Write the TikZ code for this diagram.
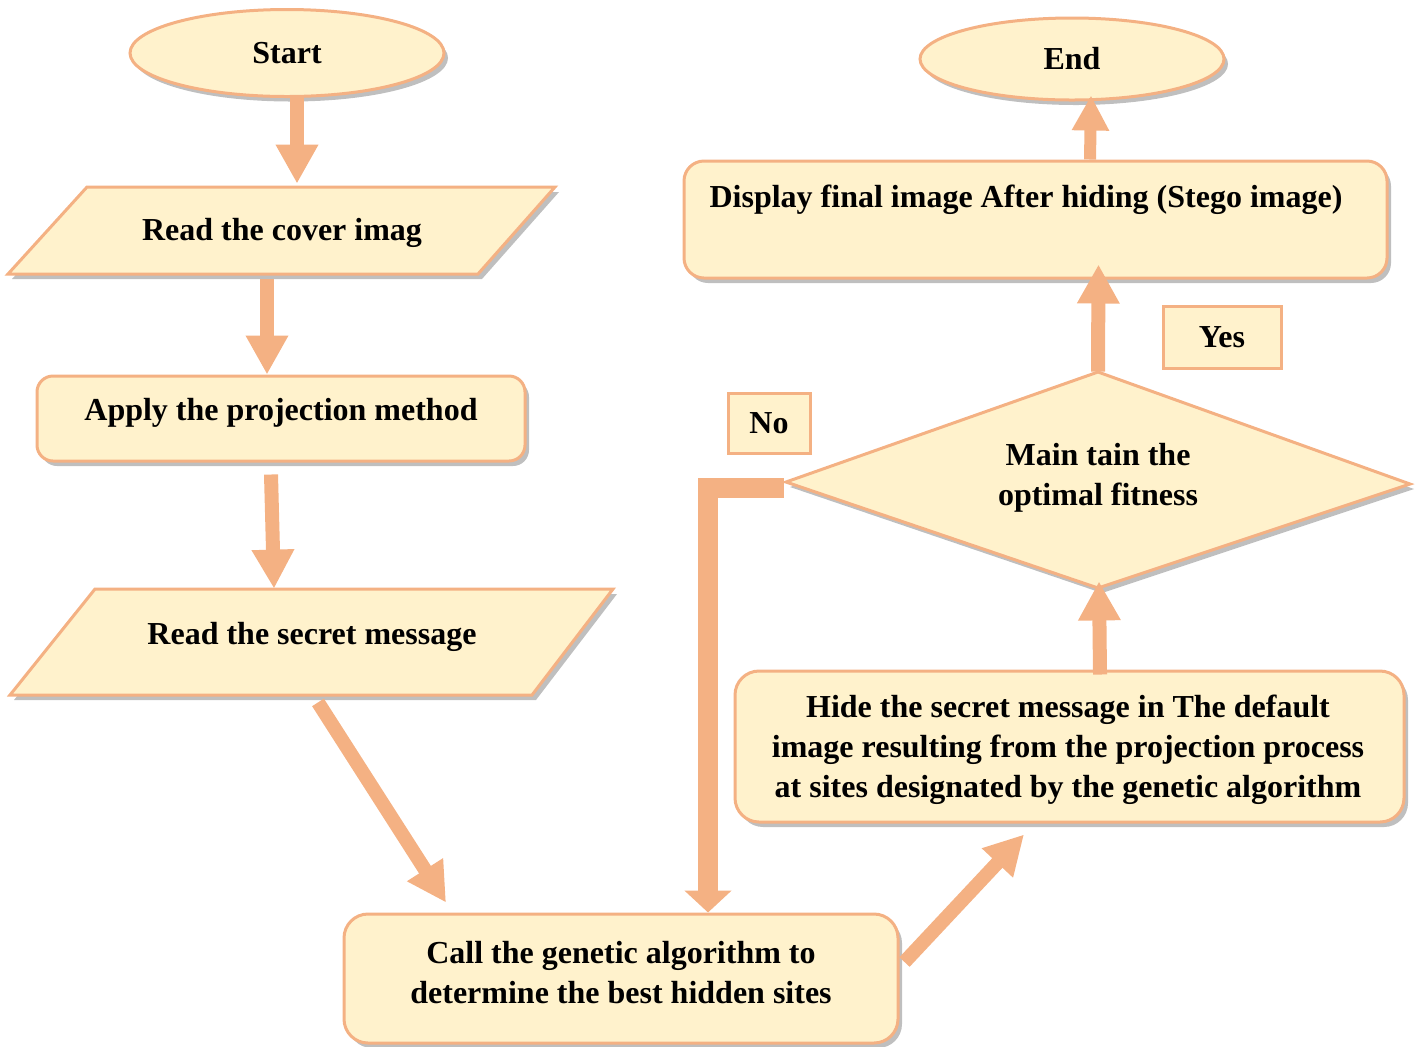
\documentclass[tikz,border=0pt]{standalone}
\usepackage{fontspec}
\setmainfont{Liberation Serif}
\usetikzlibrary{arrows.meta,shadows,calc,shapes.geometric}
\definecolor{boxfill}{HTML}{FFF2CC}
\definecolor{boxline}{HTML}{F4B183}
\definecolor{shade}{HTML}{BFBFBF}
\begin{document}
\begin{tikzpicture}[x=0.5pt,y=-0.5pt,
  shape base/.style={draw=boxline, fill=boxfill, line width=1.5pt},
  shadowed/.style={drop shadow={shadow xshift=2pt, shadow yshift=-2.5pt, fill=shade, opacity=1}},
  box/.style={shape base, shadowed, rectangle, rounded corners=8pt, inner sep=0pt},
  tag/.style={shape base, rectangle, inner sep=0pt, font=\fontsize{16}{20}\selectfont\bfseries},
  oval/.style={shape base, shadowed, ellipse, inner sep=0pt, font=\fontsize{16}{20}\selectfont\bfseries},
  frame/.style={rectangle, inner sep=0pt},
  txt/.style={inner sep=0pt, font=\fontsize{16}{20}\selectfont\bfseries, align=center},
  arr/.style={draw=boxline, line width=7pt, -{Triangle[length=19.5pt,width=20pt]}},
  smallarr/.style={draw=boxline, line width=6pt, -{Triangle[length=17.5pt,width=17.5pt]}},
  backarr/.style={draw=boxline, line width=10pt, line join=miter, -{Triangle[length=11pt,width=23pt]}},
]
\useasboundingbox (0,0) rectangle (1422,1046);

% terminals
\node[oval, minimum width=157pt, minimum height=43.5pt] (start) at (287,53) {Start};
\node[oval, minimum width=152pt, minimum height=41pt] (end) at (1072,59) {End};

% input: cover image
\filldraw[shape base, shadowed] (87,187) -- (555,187) -- (478,274) -- (8,274) -- cycle;
\node[frame, minimum width=273.5pt, minimum height=43.5pt] (cover) at (281.5,230.5) {};
\node[txt] (cover-t) at (282,233) {Read the cover imag};

% projection step
\node[box, minimum width=244pt, minimum height=42.5pt] (apply) at (281,418.5) {};
\node[txt] (apply-t) at (281,413) {Apply the projection method};

% input: secret message
\filldraw[shape base, shadowed] (95,589) -- (613,589) -- (532,695) -- (10,695) -- cycle;
\node[frame, minimum width=301.5pt, minimum height=53pt] (secret) at (311.5,642) {};
\node[txt] (secret-t) at (312,637) {Read the secret message};

% genetic algorithm call
\node[box, rounded corners=12pt, minimum width=277pt, minimum height=64.5pt] (call) at (621,978.5) {};
\node[txt] (call-t) at (621,973) {Call the genetic algorithm to\\determine the best hidden sites};

% hiding step
\node[box, rounded corners=12pt, minimum width=334.5pt, minimum height=75.5pt] (hide) at (1069.5,746.5) {};
\node[txt] (hide-t) at (1068,750) {Hide the secret message in The default\\image resulting from the projection process\\at sites designated by the genetic algorithm};

% decision
\filldraw[shape base, shadowed] (786,482) -- (1098,372) -- (1410,484) -- (1098,588) -- cycle;
\node[frame, minimum width=312pt, minimum height=108pt] (decision) at (1098,480) {};
\node[txt] (decision-t) at (1098,478) {Main tain the\\optimal fitness};

% output
\node[box, rounded corners=10pt, minimum width=351.5pt, minimum height=58.5pt] (display) at (1035.5,219.5) {};
\node[txt] (display-t) at (1026,200) {Display final image After hiding (Stego image)};

% branch labels
\node[tag, minimum width=59pt, minimum height=31pt] (yes) at (1222,337) {Yes};
\node[tag, minimum width=41pt, minimum height=30pt] (no) at (769,423) {No};

% connectors
\draw[arr] ($(start.south)+(10,0)$) -- ($(cover.north)+(15.5,-3)$);
\draw[arr] ($(cover.south)+(-14.5,5)$) -- ($(apply.north)+(-14,0)$);
\draw[arr] ($(apply.south)+(-10,12)$) -- ($(secret.north)+(-37.5,0)$);
\draw[arr] ($(secret.south)+(6.5,7)$) -- ($(call.north)+(-175,-10)$);
\draw[arr] ($(call.east)+(5,-16.5)$) -- ($(hide.south)+(-45.5,11)$);
\draw[arr] ($(hide.north)+(30.5,5)$) -- ($(decision.south)+(1,-7)$);
\draw[arr] ($(decision.north)+(0,0)$) -- ($(display.south)+(63,-15)$);
\draw[smallarr] ($(display.north)+(54.5,0)$) -- ($(end.south)+(19,-6)$);
\draw[backarr] ($(decision.west)+(-2,8)$) -| ($(call.north)+(87,0)$);

\end{tikzpicture}
\end{document}
